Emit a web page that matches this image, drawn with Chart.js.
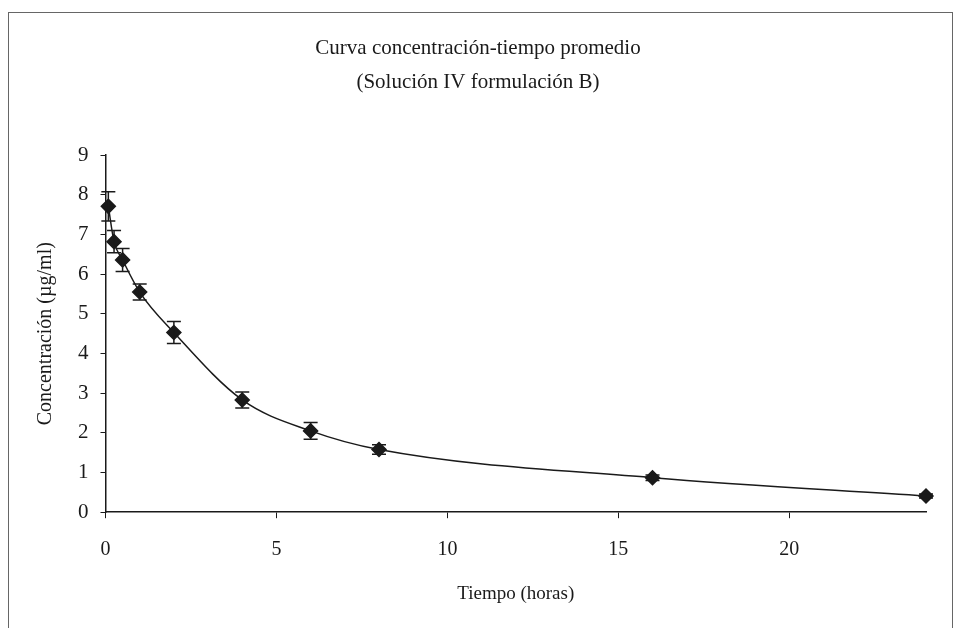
<!DOCTYPE html>
<html>
<head>
<meta charset="utf-8">
<script src="https://cdn.jsdelivr.net/npm/chart.js@4/dist/chart.umd.min.js"></script>
<style>
  html, body { margin: 0; padding: 0; background: white; }
  #wrap { width: 958px; height: 628px; }
</style>
</head>
<body>
<div id="wrap"><canvas id="chart" width="958" height="628"></canvas></div>
<script>
// Mean concentration-time data
const timeHours = [0.083, 0.25, 0.5, 1, 2, 4, 6, 8, 16, 24];
const concMean = [7.71, 6.82, 6.36, 5.55, 4.53, 2.83, 2.05, 1.58, 0.87, 0.41];
const concSD = [0.37, 0.28, 0.29, 0.2, 0.28, 0.2, 0.21, 0.12, 0.07, 0.05];
const xTicks = [0, 5, 10, 15, 20];

const serif = "'Liberation Serif', 'DejaVu Serif', serif";
const ink = '#1a1a1a';

const points = timeHours.map((t, i) => ({ x: t, y: concMean[i] }));

// White background plus the thin frame around the whole figure
const framePlugin = {
  id: 'frame',
  beforeDraw: (chart) => {
    const ctx = chart.ctx;
    ctx.save();
    ctx.fillStyle = 'white';
    ctx.fillRect(0, 0, chart.width, chart.height);
    ctx.strokeStyle = '#666';
    ctx.lineWidth = 1;
    ctx.strokeRect(8.5, 12.5, 944, 640);
    ctx.restore();
  }
};

// Vertical error bars with caps, positioned with the chart scales
const errorBarPlugin = {
  id: 'errorBars',
  afterDatasetsDraw: (chart) => {
    const ctx = chart.ctx;
    const xs = chart.scales.x;
    const ys = chart.scales.y;
    const cap = 7;
    ctx.save();
    ctx.strokeStyle = ink;
    ctx.lineWidth = 1.5;
    timeHours.forEach((t, i) => {
      const px = xs.getPixelForValue(t);
      const top = ys.getPixelForValue(concMean[i] + concSD[i]);
      const bot = ys.getPixelForValue(concMean[i] - concSD[i]);
      ctx.beginPath();
      ctx.moveTo(px, top);
      ctx.lineTo(px, bot);
      ctx.moveTo(px - cap, top);
      ctx.lineTo(px + cap, top);
      ctx.moveTo(px - cap, bot);
      ctx.lineTo(px + cap, bot);
      ctx.stroke();
    });
    ctx.restore();
  }
};

new Chart(document.getElementById('chart'), {
  type: 'scatter',
  data: {
    datasets: [{
      label: 'Solución IV formulación B',
      data: points,
      showLine: true,
      borderColor: ink,
      borderWidth: 1.5,
      tension: 0.4,
      cubicInterpolationMode: 'monotone',
      pointStyle: 'rectRot',
      pointRadius: 7,
      pointBackgroundColor: ink,
      pointBorderColor: ink,
      clip: false
    }]
  },
  options: {
    responsive: false,
    animation: false,
    layout: { padding: { left: 30, right: 32, top: 20, bottom: 19 } },
    plugins: {
      legend: { display: false },
      tooltip: { enabled: false },
      title: {
        display: true,
        text: ['Curva concentración-tiempo promedio', '(Solución IV formulación B)'],
        color: ink,
        font: { family: serif, size: 21, weight: 'normal', lineHeight: 1.6 },
        padding: { top: 12, bottom: 56 }
      }
    },
    scales: {
      x: {
        type: 'linear',
        min: 0,
        max: 24,
        afterBuildTicks: (axis) => { axis.ticks = xTicks.map(v => ({ value: v })); },
        border: { display: true, color: ink, width: 1.5 },
        grid: { display: true, drawOnChartArea: false, color: ink, tickLength: 6 },
        ticks: { color: ink, font: { family: serif, size: 20 }, padding: 20 },
        title: {
          display: true,
          text: 'Tiempo (horas)',
          color: ink,
          font: { family: serif, size: 19 },
          padding: { top: 0 }
        }
      },
      y: {
        min: 0,
        max: 9,
        ticks: { stepSize: 1, color: ink, font: { family: serif, size: 21 }, padding: 12 },
        border: { display: true, color: ink, width: 1.5 },
        grid: { display: true, drawOnChartArea: false, color: ink, tickLength: 5 },
        title: {
          display: true,
          text: 'Concentración (µg/ml)',
          color: ink,
          font: { family: serif, size: 20 },
          padding: { bottom: 8 }
        }
      }
    }
  },
  plugins: [framePlugin, errorBarPlugin]
});
</script>
</body>
</html>
